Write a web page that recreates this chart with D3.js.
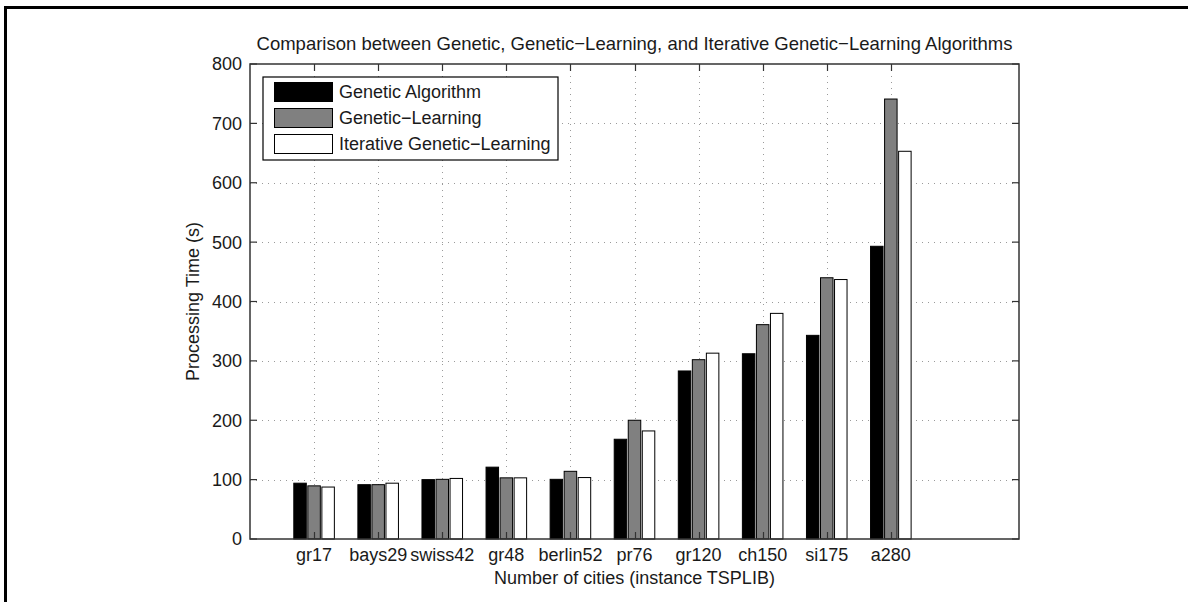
<!DOCTYPE html>
<html>
<head>
<meta charset="utf-8">
<script src="https://cdn.jsdelivr.net/npm/d3@7"></script>
<style>
  html, body { margin: 0; padding: 0; background: #fff; }
  svg { display: block; }
  text { font-family: "Liberation Sans", Arial, Helvetica, sans-serif; fill: #1a1a1a; }
</style>
</head>
<body>
<svg id="chart" width="1188" height="602"></svg>
<script>
const categories = ["gr17", "bays29", "swiss42", "gr48", "berlin52", "pr76", "gr120", "ch150", "si175", "a280"];
const seriesNames = ["Genetic Algorithm", "Genetic\u2212Learning", "Iterative Genetic\u2212Learning"];
const geneticAlgorithm = [94, 91.5, 100, 121, 100.5, 168, 283, 312, 343, 493];
const geneticLearning = [89.5, 91.5, 100.5, 103, 114, 200, 302, 361, 440, 741];
const iterativeGeneticLearning = [87.5, 94, 102, 103, 103.5, 182, 313, 380, 437, 653];
const yTicks = [0, 100, 200, 300, 400, 500, 600, 700, 800];
const seriesColors = ["#000000", "#808080", "#ffffff"];
const titleText = "Comparison between Genetic, Genetic\u2212Learning, and Iterative Genetic\u2212Learning Algorithms";
const yLabel = "Processing Time (s)";
const xLabel = "Number of cities (instance TSPLIB)";

const series = [geneticAlgorithm, geneticLearning, iterativeGeneticLearning];
const svg = d3.select("#chart");

const plot = { left: 250, right: 1019, top: 64, bottom: 539 };

// outer frame
svg.append("path")
  .attr("d", `M1188,7.5 L5.5,7.5 L5.5,602`)
  .attr("fill", "none").attr("stroke", "#000").attr("stroke-width", 3);

const x = d3.scaleLinear().domain([0, categories.length + 2]).range([plot.left, plot.right]);
const y = d3.scaleLinear().domain([0, 800]).range([plot.bottom, plot.top]);
const unit = x(1) - x(0);
const pitch = unit * 0.219;
const barW = unit * 0.195;

const g = svg.append("g");

// grid
g.selectAll(".hgrid").data(yTicks.filter(t => t > 0 && t < 800)).join("line")
  .attr("x1", plot.left).attr("x2", plot.right)
  .attr("y1", d => Math.round(y(d)) + 0.5).attr("y2", d => Math.round(y(d)) + 0.5)
  .attr("stroke", "#9a9a9a").attr("stroke-width", 1).attr("stroke-dasharray", "1,5");
g.selectAll(".vgrid").data(categories).join("line")
  .attr("x1", (d, i) => Math.round(x(i + 1)) + 0.5).attr("x2", (d, i) => Math.round(x(i + 1)) + 0.5)
  .attr("y1", plot.top).attr("y2", plot.bottom)
  .attr("stroke", "#9a9a9a").attr("stroke-width", 1).attr("stroke-dasharray", "1,5");

// bars
series.forEach((vals, s) => {
  g.append("g").selectAll("rect").data(vals).join("rect")
    .attr("x", (d, i) => x(i + 1) + (s - 1) * pitch - barW / 2)
    .attr("width", barW)
    .attr("y", d => y(d))
    .attr("height", d => y(0) - y(d))
    .attr("fill", seriesColors[s])
    .attr("stroke", "#000").attr("stroke-width", 1);
});

// axes box
const axisColor = "#333";
const tickLen = 7;
g.append("rect")
  .attr("x", plot.left).attr("y", plot.top)
  .attr("width", plot.right - plot.left).attr("height", plot.bottom - plot.top)
  .attr("fill", "none").attr("stroke", axisColor).attr("stroke-width", 1.5);

yTicks.forEach(t => {
  g.append("line").attr("x1", plot.left).attr("x2", plot.left + tickLen)
    .attr("y1", y(t)).attr("y2", y(t)).attr("stroke", axisColor).attr("stroke-width", 1.2);
  g.append("line").attr("x1", plot.right).attr("x2", plot.right - tickLen)
    .attr("y1", y(t)).attr("y2", y(t)).attr("stroke", axisColor).attr("stroke-width", 1.2);
});
categories.forEach((c, i) => {
  const xx = Math.round(x(i + 1)) + 0.5;
  g.append("line").attr("x1", xx).attr("x2", xx)
    .attr("y1", plot.bottom).attr("y2", plot.bottom - tickLen).attr("stroke", axisColor).attr("stroke-width", 1.2);
  g.append("line").attr("x1", xx).attr("x2", xx)
    .attr("y1", plot.top).attr("y2", plot.top + tickLen).attr("stroke", axisColor).attr("stroke-width", 1.2);
});

// y tick labels
g.selectAll(".ylab").data(yTicks).join("text")
  .attr("x", plot.left - 8).attr("y", d => y(d)).attr("dy", "0.36em")
  .attr("text-anchor", "end").style("font-size", "18px")
  .text(d => d);

// x tick labels
g.selectAll(".xlab").data(categories).join("text")
  .attr("x", (d, i) => x(i + 1)).attr("y", plot.bottom + 22)
  .attr("text-anchor", "middle").style("font-size", "18px")
  .text(d => d);

// axis labels
svg.append("text")
  .attr("x", (plot.left + plot.right) / 2).attr("y", plot.bottom + 45)
  .attr("text-anchor", "middle").style("font-size", "18px").text(xLabel);
svg.append("text")
  .attr("transform", `translate(199,${(plot.top + plot.bottom) / 2}) rotate(-90)`)
  .attr("text-anchor", "middle").style("font-size", "18px").text(yLabel);

// title
svg.append("text")
  .attr("x", (plot.left + plot.right) / 2).attr("y", plot.top - 14)
  .attr("text-anchor", "middle").style("font-size", "18.5px").text(titleText);

// legend
const lg = svg.append("g").attr("transform", "translate(263,77)");
lg.append("rect").attr("x", 0).attr("y", 0).attr("width", 295).attr("height", 83)
  .attr("fill", "#fff").attr("stroke", "#000").attr("stroke-width", 1.2);
seriesNames.forEach((name, s) => {
  lg.append("rect").attr("x", 11.5).attr("y", 5.5 + s * 26).attr("width", 58).attr("height", 19)
    .attr("fill", seriesColors[s]).attr("stroke", "#000").attr("stroke-width", 1);
  lg.append("text").attr("x", 76).attr("y", 15 + s * 26).attr("dy", "0.36em")
    .style("font-size", "18px").text(name);
});
</script>
</body>
</html>
